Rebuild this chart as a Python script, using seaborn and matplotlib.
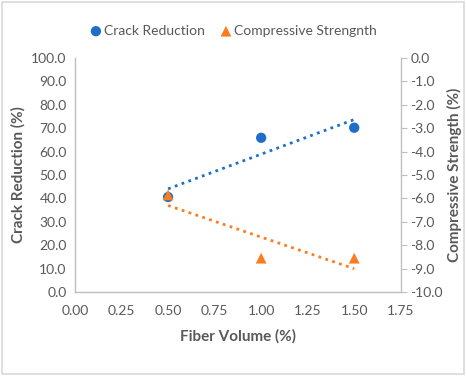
import numpy as np
import pandas as pd
import matplotlib
matplotlib.use('Agg')
import matplotlib.pyplot as plt
import seaborn as sns

fiber_volume = [0.5, 1.0, 1.5]
crack_reduction = [40.6, 65.9, 70.2]
compressive_strength = [-5.85, -8.55, -8.55]

x_ticks = [0.00, 0.25, 0.50, 0.75, 1.00, 1.25, 1.50, 1.75]
left_ticks = list(range(0, 101, 10))
right_ticks = list(range(-10, 1, 1))

blue = '#1f6fc8'
orange = '#fb7c1f'
grey_text = '#595959'
grey_line = '#bfbfbf'

df = pd.DataFrame({'fiber': fiber_volume,
                   'crack': crack_reduction,
                   'comp': compressive_strength})

sns.set_style('white')
plt.rcParams['font.family'] = ['Lato', 'DejaVu Sans']

fig = plt.figure(figsize=(4.66, 3.76), dpi=100)
ax = fig.add_axes([0.161, 0.223, 0.699, 0.623])
ax2 = ax.twinx()

# trendlines (linear fit like Excel)
sns.regplot(data=df, x='fiber', y='crack', ax=ax, ci=None, scatter=False,
            line_kws=dict(color=blue, linestyle=(0, (1, 1.6)), linewidth=2))
sns.regplot(data=df, x='fiber', y='comp', ax=ax2, ci=None, scatter=False,
            line_kws=dict(color=orange, linestyle=(0, (1, 1.6)), linewidth=2))

sns.scatterplot(data=df, x='fiber', y='crack', ax=ax, color=blue, marker='o',
                s=55, edgecolor='none', label='Crack Reduction', legend=False, zorder=3)
sns.scatterplot(data=df, x='fiber', y='comp', ax=ax2, color=orange, marker='^',
                s=60, edgecolor='none', label='Compressive Strengnth', legend=False, zorder=3)

ax.set_xlim(0, 1.75)
ax.set_ylim(0, 100)
ax2.set_ylim(-10, 0)
ax.set_xticks(x_ticks)
ax.set_xticklabels([f'{t:.2f}' for t in x_ticks])
ax.set_yticks(left_ticks)
ax.set_yticklabels([f'{t:.1f}' for t in left_ticks])
ax2.set_yticks(right_ticks)
ax2.set_yticklabels([f'{t:.1f}' for t in right_ticks])

for a in (ax, ax2):
    for s in a.spines.values():
        s.set_visible(False)
    a.tick_params(labelsize=10, colors=grey_text)
ax.spines['left'].set_visible(True)
ax.spines['bottom'].set_visible(True)
ax2.spines['right'].set_visible(True)
for s in (ax.spines['left'], ax.spines['bottom'], ax2.spines['right']):
    s.set_color(grey_line)
    s.set_linewidth(1)
ax.tick_params(axis='both', length=0, pad=6)
ax.tick_params(axis='x', pad=9)
ax2.tick_params(axis='y', length=4, color=grey_line, pad=3)

ax.set_xlabel('Fiber Volume (%)', fontsize=11, fontweight='bold', color=grey_text, labelpad=9)
ax.set_ylabel('Crack Reduction (%)', fontsize=11, fontweight='bold', color=grey_text, labelpad=4)
ax2.set_ylabel('Compressive Strength (%)', fontsize=11, fontweight='bold', color=grey_text, labelpad=3)

h1, l1 = ax.get_legend_handles_labels()
h2, l2 = ax2.get_legend_handles_labels()
fig.legend(h1 + h2, l1 + l2, loc='center', bbox_to_anchor=(0.5, 0.918), ncol=2,
           frameon=False, fontsize=10, labelcolor=grey_text, handletextpad=0.1,
           columnspacing=1.0, handlelength=1.0)

fig.patches.append(plt.Rectangle((0.004, 0.004), 0.992, 0.99, transform=fig.transFigure,
                                 fill=False, edgecolor='#d9d9d9', linewidth=1.2))

fig.savefig('out.png', dpi=100)
